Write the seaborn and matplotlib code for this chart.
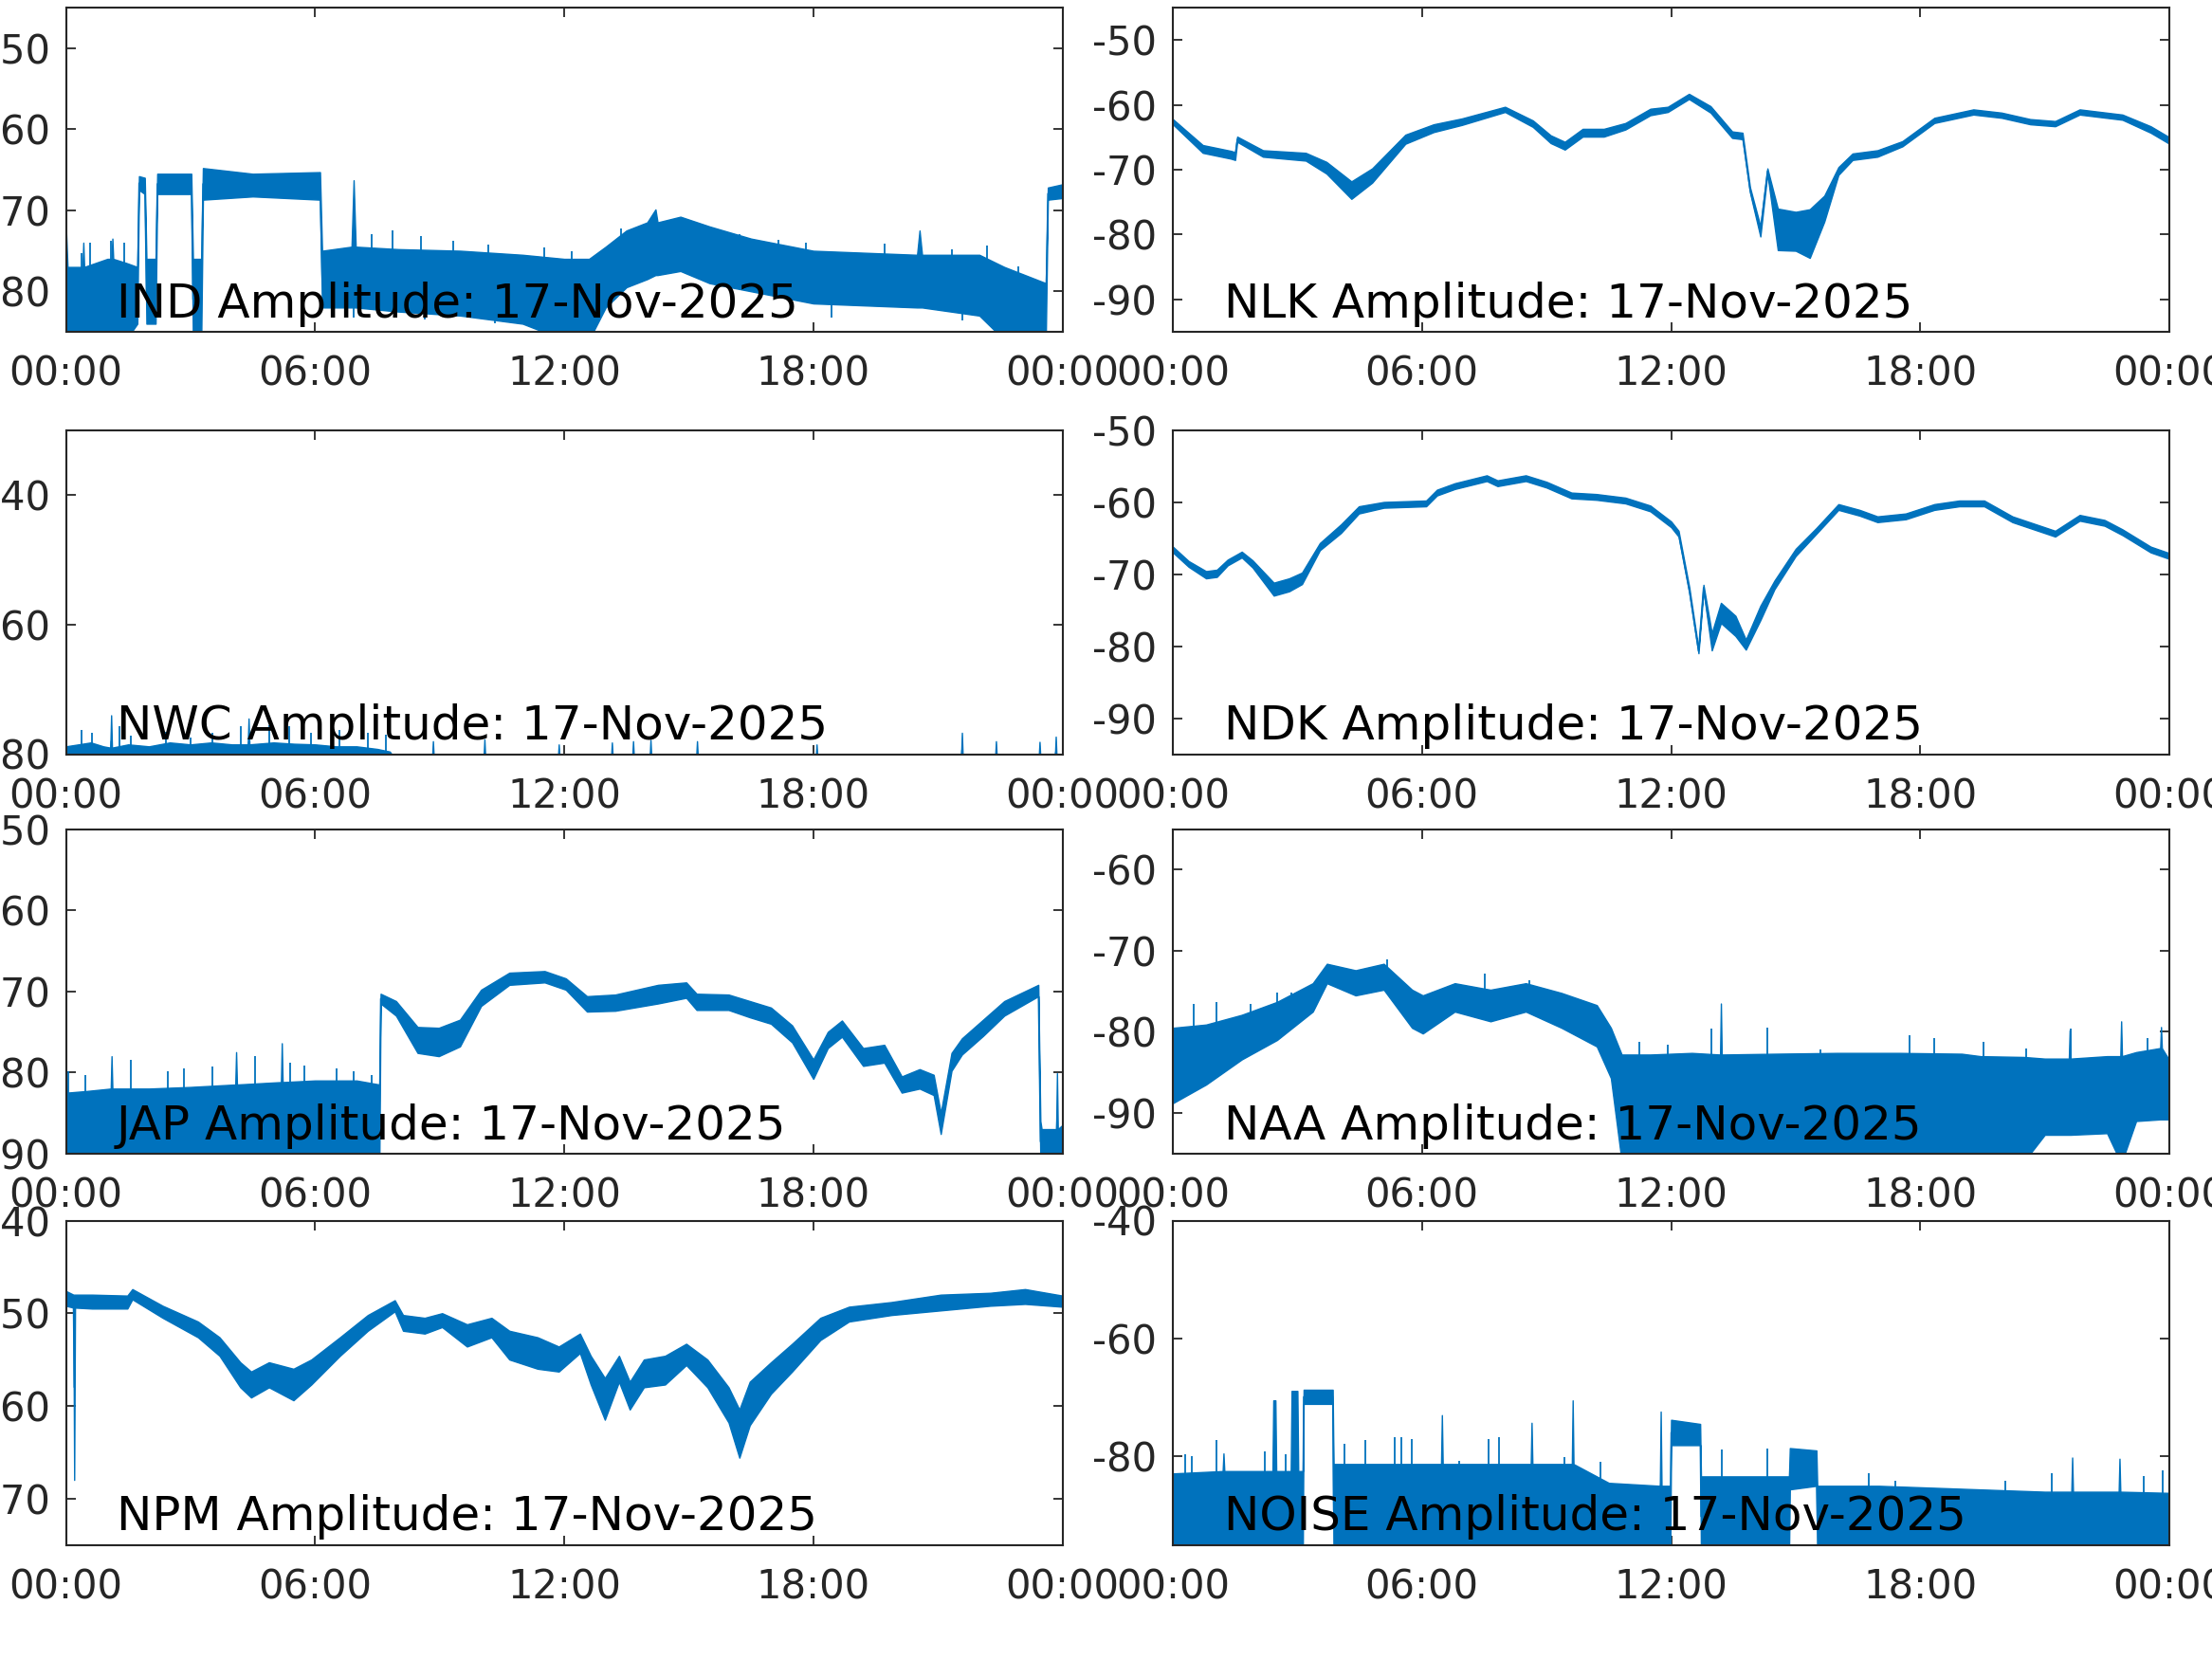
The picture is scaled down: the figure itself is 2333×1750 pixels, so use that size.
import pandas as pd
import seaborn as sns
from matplotlib import pyplot as plt

# hours since 00:00 UT, amplitudes in dB (lower / upper edge of the trace)
IND_T = [0.00, 0.04, 0.40, 0.42, 0.44, 1.00, 1.10, 1.12, 1.14, 1.45, 1.72, 1.76, 1.90, 1.94, 2.16, 2.20,
         3.02, 3.06, 3.26, 3.30, 4.50, 6.12, 6.17, 6.88, 6.93, 6.98, 8.00, 9.50, 11.00, 12.00, 12.60,
         13.00, 13.50, 14.00, 14.20, 14.25, 14.80, 15.50, 16.50, 18.00, 20.50, 20.56, 20.62, 22.00,
         22.60, 23.60, 23.65, 24.00]
IND_LO = [-86, -86, -86, -86, -86, -86, -86, -86, -86, -86, -84, -67.5, -68, -84, -84, -68, -68, -86,
          -86, -68.7, -68.3, -68.7, -82, -82, -82, -82, -82.5, -83, -84, -86, -86, -82, -79.5, -78.5,
          -78, -78, -77.5, -79, -80, -81.5, -82, -82, -82, -83, -86, -86, -68.7, -68.5]
IND_HI = [-72, -77, -77, -74, -77, -76, -76, -73.5, -76, -76.5, -77, -65.8, -66, -76, -76, -65.5,
          -65.5, -76, -76, -64.8, -65.5, -65.3, -75, -74.5, -66.3, -74.5, -74.8, -75, -75.5, -76, -76,
          -74.5, -72.5, -71.5, -69.9, -71.5, -70.8, -72, -73.5, -75, -75.5, -72.5, -75.5, -75.5, -77,
          -79, -67.2, -66.8]
IND_SPK_T = [0.37, 0.58, 1.09, 1.40, 7.36, 7.87, 8.55, 9.32, 10.17, 11.53, 12.18, 13.37, 16.22, 17.15,
             17.83, 19.71, 21.33, 22.18, 22.94]
IND_SPK_TOP = [-75.3, -74, -73.8, -74, -73, -72.5, -73.2, -73.8, -74.2, -74.6, -75, -72.3, -73, -73.6,
               -74, -74.1, -74.8, -74.3, -76.9]
IND_DIP_T = [6.93, 8.64, 10.34, 18.43, 21.6]
IND_DIP_BOT = [-83.2, -83.5, -84, -83.2, -83.6]

NLK_T = [0, 0.72, 1.40, 1.50, 1.55, 2.17, 3.20, 3.70, 4.30, 4.80, 5.60, 6.28, 6.96, 8.00, 8.67, 9.10,
         9.44, 9.87, 10.38, 10.90, 11.50, 11.92, 12.43, 12.95, 13.47, 13.72, 13.90, 14.15, 14.32, 14.57,
         15.00, 15.34, 15.69, 16.03, 16.37, 16.97, 17.57, 18.34, 19.28, 19.96, 20.65, 21.25, 21.84,
         22.87, 23.55, 24.00]
NLK_LO = [-63.0, -67.4, -68.3, -68.5, -65.7, -68.0, -68.6, -70.6, -74.5, -72.0, -66.0, -64.2, -63.1,
          -61.1, -63.4, -65.9, -66.9, -64.9, -64.9, -63.8, -61.6, -61.1, -59.1, -61.2, -65.1, -65.3,
          -73.5, -80.3, -70.6, -82.4, -82.5, -83.6, -78.0, -70.8, -68.5, -68.0, -66.4, -62.8, -61.5,
          -62.0, -63.0, -63.3, -61.5, -62.3, -64.3, -66.0]
NLK_HI = [-62.2, -66.2, -67.1, -67.3, -64.9, -67.0, -67.4, -68.8, -71.8, -69.8, -64.6, -63.0, -62.1,
          -60.3, -62.4, -64.7, -65.7, -63.7, -63.7, -62.8, -60.6, -60.3, -58.3, -60.2, -64.1, -64.3,
          -72.7, -78.7, -69.8, -76.0, -76.5, -76.1, -74.0, -69.6, -67.5, -67.0, -65.6, -62.0, -60.7,
          -61.2, -62.2, -62.5, -60.7, -61.5, -63.3, -65.0]

NWC_T = [0, 0.3, 0.6, 0.9, 1.07, 1.09, 1.11, 1.5, 2.0, 2.5, 3.0, 3.5, 4.0, 4.38, 4.40, 4.42, 5.0, 5.5,
         6.0, 6.5, 7.0, 7.5, 7.8, 7.9, 8.82, 8.84, 8.86, 10.06, 10.08, 10.10, 11.85, 11.87, 11.89,
         13.13, 13.15, 13.17, 13.64, 13.66, 13.68, 14.06, 14.08, 14.10, 15.18, 15.20, 15.22, 18.06,
         18.08, 18.10, 21.56, 21.58, 21.60, 22.38, 22.40, 22.42, 23.43, 23.45, 23.47, 23.82, 23.84,
         23.86, 24.0]
NWC_LO = -82  # trace sits below the axis floor
NWC_HI = [-78.8, -78.5, -78.2, -78.8, -79, -74, -79, -78.5, -78.8, -78.2, -78.5, -78.2, -78.5, -78.5,
          -74.5, -78.5, -78.2, -78.4, -78.5, -78.8, -78.8, -79.2, -79.6, -80.5, -80.5, -78.0, -80.5,
          -80.5, -77.7, -80.5, -80.5, -78.5, -80.5, -80.5, -78.2, -80.5, -80.5, -78.0, -80.5, -80.5,
          -77.8, -80.5, -80.5, -78.0, -80.5, -80.5, -78.5, -80.5, -80.5, -76.7, -80.5, -80.5, -78.0,
          -80.5, -80.5, -78.1, -80.5, -80.5, -77.3, -80.5, -80.5]
NWC_SPK_T = [0.37, 0.63, 1.28, 1.57, 2.42, 3.01, 3.53, 4.21, 4.89, 5.37, 5.91, 6.59, 7.27, 7.70]
NWC_SPK_TOP = [-76.2, -76.7, -75.7, -77.2, -76.5, -77.5, -76.7, -75.7, -75.5, -75.7, -76.7, -76.2,
               -76.7, -77.0]

NDK_T = [0, 0.38, 0.80, 1.06, 1.32, 1.66, 1.92, 2.43, 2.80, 3.11, 3.54, 4.05, 4.48, 5.08, 6.10, 6.36,
         6.79, 7.56, 7.82, 8.50, 9.00, 9.60, 10.20, 10.90, 11.50, 12.00, 12.18, 12.44, 12.66, 12.78,
         12.98, 13.20, 13.55, 13.80, 14.15, 14.49, 15.00, 15.50, 16.03, 16.54, 16.97, 17.65, 18.34,
         18.94, 19.54, 20.22, 21.25, 21.84, 22.44, 22.87, 23.55, 24.00]
NDK_LO = [-67.0, -69.0, -70.6, -70.4, -68.8, -67.7, -69.1, -73.0, -72.4, -71.4, -66.7, -64.3, -61.6,
          -60.8, -60.6, -59.1, -58.2, -57.1, -57.8, -57.1, -58.0, -59.5, -59.7, -60.2, -61.3, -63.5,
          -64.8, -72.7, -81.0, -72.3, -80.6, -76.8, -78.6, -80.5, -76.4, -72.1, -67.5, -64.4, -61.1,
          -61.9, -62.8, -62.4, -61.1, -60.6, -60.6, -62.8, -64.8, -62.6, -63.3, -64.6, -67.0, -67.9]
NDK_HI = [-66.2, -68.2, -69.6, -69.4, -68.0, -66.9, -68.1, -71.2, -70.6, -69.8, -65.7, -63.1, -60.6,
          -60.0, -59.8, -58.3, -57.4, -56.3, -57.0, -56.3, -57.2, -58.7, -58.9, -59.4, -60.5, -62.7,
          -64.0, -71.9, -80.4, -71.5, -78.2, -74.0, -75.8, -79.1, -74.4, -70.9, -66.5, -63.6, -60.3,
          -61.1, -62.0, -61.6, -60.3, -59.8, -59.8, -62.0, -64.0, -61.8, -62.5, -63.8, -66.2, -67.1]

JAP_T = [0, 0.03, 0.5, 1.08, 1.10, 1.12, 2.0, 3.0, 4.08, 4.10, 4.12, 5.18, 5.20, 5.22, 6.0, 7.0, 7.55,
         7.58, 7.95, 8.47, 8.98, 9.49, 10.0, 10.68, 11.53, 12.04, 12.55, 13.23, 14.26, 14.94, 15.19,
         15.96, 16.47, 16.98, 17.49, 18.00, 18.35, 18.69, 19.2, 19.71, 20.13, 20.56, 20.9, 21.07,
         21.33, 21.58, 22.09, 22.6, 23.42, 23.47, 23.50, 23.85, 23.87, 23.89, 24]
JAP_LO = [-91, -91, -91, -91, -91, -91, -91, -91, -91, -91, -91, -91, -91, -91, -91, -91, -91,
          -71.5, -73, -77.6, -78, -76.8, -71.8, -69.2, -68.9, -69.8, -72.5, -72.4, -71.5, -70.8,
          -72.3, -72.3, -73.2, -74, -76.3, -80.8, -77, -75.6, -79.2, -78.8, -82.5, -82, -82.8, -87.6,
          -79.8, -77.8, -75.5, -73, -70.6, -91, -91, -91, -91, -91, -91]
JAP_HI = [-80.1, -82.5, -82.3, -82, -78, -82, -82, -81.8, -81.5, -77.5, -81.5, -81.2, -76.4, -81.2,
          -81, -81, -81.5, -70.3, -71.2, -74.4, -74.5, -73.5, -69.8, -67.7, -67.5, -68.4, -70.6, -70.4,
          -69.2, -68.9, -70.3, -70.4, -71.2, -72, -74.2, -78.4, -75, -73.6, -77, -76.6, -80.5, -79.6,
          -80.3, -85, -77.6, -75.8, -73.5, -71.2, -69.2, -86, -87, -87, -80.1, -87, -86.5]
JAP_SPK_T = [0.05, 0.46, 1.57, 2.45, 2.84, 3.53, 4.55, 5.40, 5.74, 6.51, 6.93, 7.36]
JAP_SPK_TOP = [-79.9, -80.3, -78.4, -79.9, -79.5, -79.3, -78.0, -78.8, -79.1, -79.5, -79.9, -80.3]

NAA_T = [0, 0.8, 1.66, 2.51, 3.37, 3.71, 4.40, 5.08, 5.76, 6.02, 6.79, 7.65, 8.50, 9.36, 10.21, 10.55,
         10.81, 11.5, 12.5, 13.18, 13.20, 13.22, 14.5, 16.0, 17.5, 19.0, 19.45, 20.5, 21.0, 21.58,
         21.60, 21.62, 22.5, 22.82, 22.84, 22.86, 23.2, 23.78, 23.80, 23.82, 24.0]
NAA_LO = [-88.8, -86.5, -83.4, -81.0, -77.5, -74.0, -75.5, -74.8, -79.5, -80.2, -77.5, -78.7, -77.5,
          -79.5, -81.8, -85.7, -96, -96, -96, -96, -96, -96, -96, -96, -96, -96, -96, -96, -92.7,
          -92.7, -92.7, -92.7, -92.5, -96, -96, -96, -91.0, -90.8, -90.8, -90.8, -90.8]
NAA_HI = [-79.5, -79.1, -77.9, -76.3, -74.0, -71.6, -72.4, -71.6, -74.8, -75.5, -74.0, -74.8, -74.0,
          -75.2, -76.7, -79.5, -82.8, -82.8, -82.6, -82.8, -76.5, -82.8, -82.7, -82.6, -82.6, -82.7,
          -83.0, -83.1, -83.3, -83.3, -79.8, -83.3, -83.0, -83.0, -78.7, -83.0, -82.5, -82.0, -79.4,
          -82.0, -83.5]
NAA_SPK_T = [0.51, 1.06, 1.88, 2.51, 2.86, 5.17, 7.51, 8.59, 11.24, 11.92, 12.98, 14.32, 15.60, 17.74,
             18.34, 19.53, 20.56, 21.62, 23.47]
NAA_SPK_TOP = [-76.5, -76.3, -76.5, -75.2, -75.2, -71.1, -72.8, -73.6, -81.2, -81.6, -79.6, -79.5,
               -82.2, -80.4, -80.8, -81.2, -82.0, -79.6, -80.8]
NAA_SPK_BASE = [-80, -80, -79, -77, -77, -73.5, -76, -76, -88, -88, -88, -88, -88, -88, -88, -88, -88,
                -88, -88]

NPM_T = [0, 0.18, 0.20, 0.22, 0.63, 1.48, 1.60, 2.33, 3.18, 3.70, 4.20, 4.46, 4.89, 5.48, 5.91, 6.60,
         7.27, 7.92, 8.12, 8.64, 9.06, 9.66, 10.25, 10.68, 11.36, 11.87, 12.38, 12.64, 12.98, 13.32,
         13.58, 13.92, 14.43, 14.94, 15.45, 15.96, 16.22, 16.47, 16.98, 17.49, 18.17, 18.86, 19.88,
         21.07, 22.26, 23.10, 24.0]
NPM_LO = [-49.2, -49.4, -68.0, -49.4, -49.5, -49.5, -48.5, -50.5, -52.6, -54.6, -58.0, -59.1, -58.0,
          -59.4, -57.7, -54.6, -51.9, -49.8, -51.9, -52.2, -51.5, -53.6, -52.6, -55.0, -56.0, -56.3,
          -54.3, -57.7, -61.5, -57.4, -60.4, -58.0, -57.7, -55.6, -58.0, -61.8, -65.6, -62.1, -58.7,
          -56.3, -52.9, -50.9, -50.2, -49.7, -49.2, -49.0, -49.3]
NPM_HI = [-47.6, -48.0, -48.0, -48.0, -48.0, -48.1, -47.4, -49.2, -50.9, -52.6, -55.3, -56.3, -55.3,
          -56.0, -55.0, -52.6, -50.2, -48.6, -50.2, -50.5, -50.0, -51.2, -50.5, -51.9, -52.6, -53.6,
          -52.2, -54.6, -57.0, -54.6, -57.4, -55.0, -54.6, -53.3, -55.0, -58.0, -60.4, -57.4, -55.3,
          -53.3, -50.5, -49.3, -48.8, -48.0, -47.8, -47.4, -48.1]

NOISE_T = [0, 1.2, 1.22, 1.24, 2.40, 2.42, 2.47, 2.49, 2.84, 2.86, 3.00, 3.02, 3.13, 3.15, 3.85, 3.87,
           4.5, 6.46, 6.48, 6.50, 7.5, 8.62, 8.64, 8.66, 9.61, 9.63, 9.65, 10.5, 11.73, 11.75, 11.77,
           11.98, 12.00, 12.70, 12.72, 13.5, 14.84, 14.86, 15.50, 15.52, 17.0, 19.0, 21.0, 21.64, 21.66,
           21.68, 22.78, 22.80, 22.82, 24.0]
NOISE_LO = [-97, -97, -97, -97, -97, -97, -97, -97, -97, -97, -97, -97, -97, -71.1, -71.1, -97, -97,
            -97, -97, -97, -97, -97, -97, -97, -97, -97, -97, -97, -97, -97, -97, -97, -78.1, -78.1,
            -97, -97, -97, -85.6, -85, -97, -97, -97, -97, -97, -97, -97, -97, -97, -97, -97]
NOISE_HI = [-82.9, -82.5, -79.5, -82.5, -82.5, -70.5, -70.5, -82.5, -82.5, -68.9, -68.9, -82.5, -82.5,
            -68.7, -68.7, -81.3, -81.3, -81.3, -73.0, -81.3, -81.3, -81.3, -74.3, -81.3, -81.3, -70.5,
            -81.3, -84.5, -85, -72.4, -85, -85, -73.8, -74.5, -83.4, -83.4, -83.4, -78.6, -79, -85, -85,
            -85.5, -86, -86, -80.2, -86, -86, -80.4, -86, -86.2]
NOISE_SPK_T = [0.29, 0.46, 1.06, 2.22, 2.72, 4.14, 4.64, 5.34, 5.51, 5.76, 6.89, 7.61, 7.85, 9.44, 10.30,
               13.22, 14.32, 16.75, 17.40, 20.05, 21.16, 23.38, 23.85]
NOISE_SPK_TOP = [-79.7, -80.0, -77.3, -79.1, -79.7, -77.8, -77.3, -76.7, -76.7, -77.0, -80.8, -77.1,
                 -76.7, -80.1, -81.0, -78.9, -78.6, -82.9, -84.2, -84.2, -82.9, -83.4, -82.4]

STATIONS = ["IND", "NLK", "NWC", "NDK", "JAP", "NAA", "NPM", "NOISE"]
SERIES = {
    "IND": (IND_T, IND_LO, IND_HI), "NLK": (NLK_T, NLK_LO, NLK_HI),
    "NWC": (NWC_T, NWC_LO, NWC_HI), "NDK": (NDK_T, NDK_LO, NDK_HI),
    "JAP": (JAP_T, JAP_LO, JAP_HI), "NAA": (NAA_T, NAA_LO, NAA_HI),
    "NPM": (NPM_T, NPM_LO, NPM_HI), "NOISE": (NOISE_T, NOISE_LO, NOISE_HI),
}
# isolated spikes: (times, tip, base the spike starts from inside the band)
SPIKES = {
    "IND": [(IND_SPK_T, IND_SPK_TOP, -79), (IND_DIP_T, IND_DIP_BOT, -79)],
    "NWC": [(NWC_SPK_T, NWC_SPK_TOP, -81)],
    "JAP": [(JAP_SPK_T, JAP_SPK_TOP, -88)],
    "NAA": [(NAA_SPK_T, NAA_SPK_TOP, NAA_SPK_BASE)],
    "NOISE": [(NOISE_SPK_T, NOISE_SPK_TOP, -92)],
}
YLIMS = {"IND": (-85, -45), "NLK": (-95, -45), "NWC": (-80, -30), "NDK": (-95, -50),
         "JAP": (-90, -50), "NAA": (-95, -55), "NPM": (-75, -40), "NOISE": (-95, -40)}
YTICKS = {"IND": [-80, -70, -60, -50], "NLK": [-90, -80, -70, -60, -50], "NWC": [-80, -60, -40],
          "NDK": [-90, -80, -70, -60, -50], "JAP": [-90, -80, -70, -60, -50],
          "NAA": [-90, -80, -70, -60], "NPM": [-70, -60, -50, -40], "NOISE": [-80, -60, -40]}
XTICKS = [0, 6, 12, 18, 24]
XLABELS = ["00:00", "06:00", "12:00", "18:00", "00:00"]
DATE = "17-Nov-2025"

LINE = "#0072BD"
AXC = "#262626"

sns.set_theme(style="ticks")
plt.rcParams["font.family"] = ["DejaVu Sans"]
plt.rcParams["axes.unicode_minus"] = False

W, H = 2333, 1750
fig = plt.figure(figsize=(W / 100, H / 100), dpi=100)

cols = [69.5, 1237]
rows = [350, 795.5, 1216.7, 1629.5]  # bottom edges in pixels
aw, ah = 1051, 342

for i, name in enumerate(STATIONS):
    r, c = divmod(i, 2)
    ax = fig.add_axes([cols[c] / W, 1 - rows[r] / H, aw / W, ah / H])
    t, lo, hi = SERIES[name]
    if not isinstance(lo, list):
        lo = [lo] * len(t)
    df = pd.DataFrame({"t": list(t) + list(t), "amp": list(lo) + list(hi)})
    sns.lineplot(data=df, x="t", y="amp", ax=ax, color=LINE, linewidth=1.0,
                 estimator="mean", errorbar=("pi", 100),
                 err_kws={"alpha": 1, "linewidth": 1.0, "edgecolor": LINE, "facecolor": LINE})
    for st, tip, base in SPIKES.get(name, []):
        ax.vlines(st, base, tip, color=LINE, linewidth=1.3)
    ax.set_xlim(0, 24)
    ax.set_ylim(*YLIMS[name])
    ax.set_xticks(XTICKS)
    ax.set_xticklabels(XLABELS)
    ax.set_yticks(YTICKS[name])
    ax.set_xlabel("")
    ax.set_ylabel("")
    ax.tick_params(direction="in", top=True, right=True, length=7, width=1.3,
                   color=AXC, labelcolor=AXC, labelsize=30)
    ax.tick_params(axis="x", pad=17)
    ax.tick_params(axis="y", pad=12)
    for sp in ax.spines.values():
        sp.set_visible(True)
        sp.set_color(AXC)
        sp.set_linewidth(1.5)
    ax.text(0.051, 0.044, f"{name} Amplitude: {DATE}", transform=ax.transAxes,
            fontsize=36, color="black", va="baseline", ha="left", zorder=10)

fig.savefig("out.png", dpi=100)
